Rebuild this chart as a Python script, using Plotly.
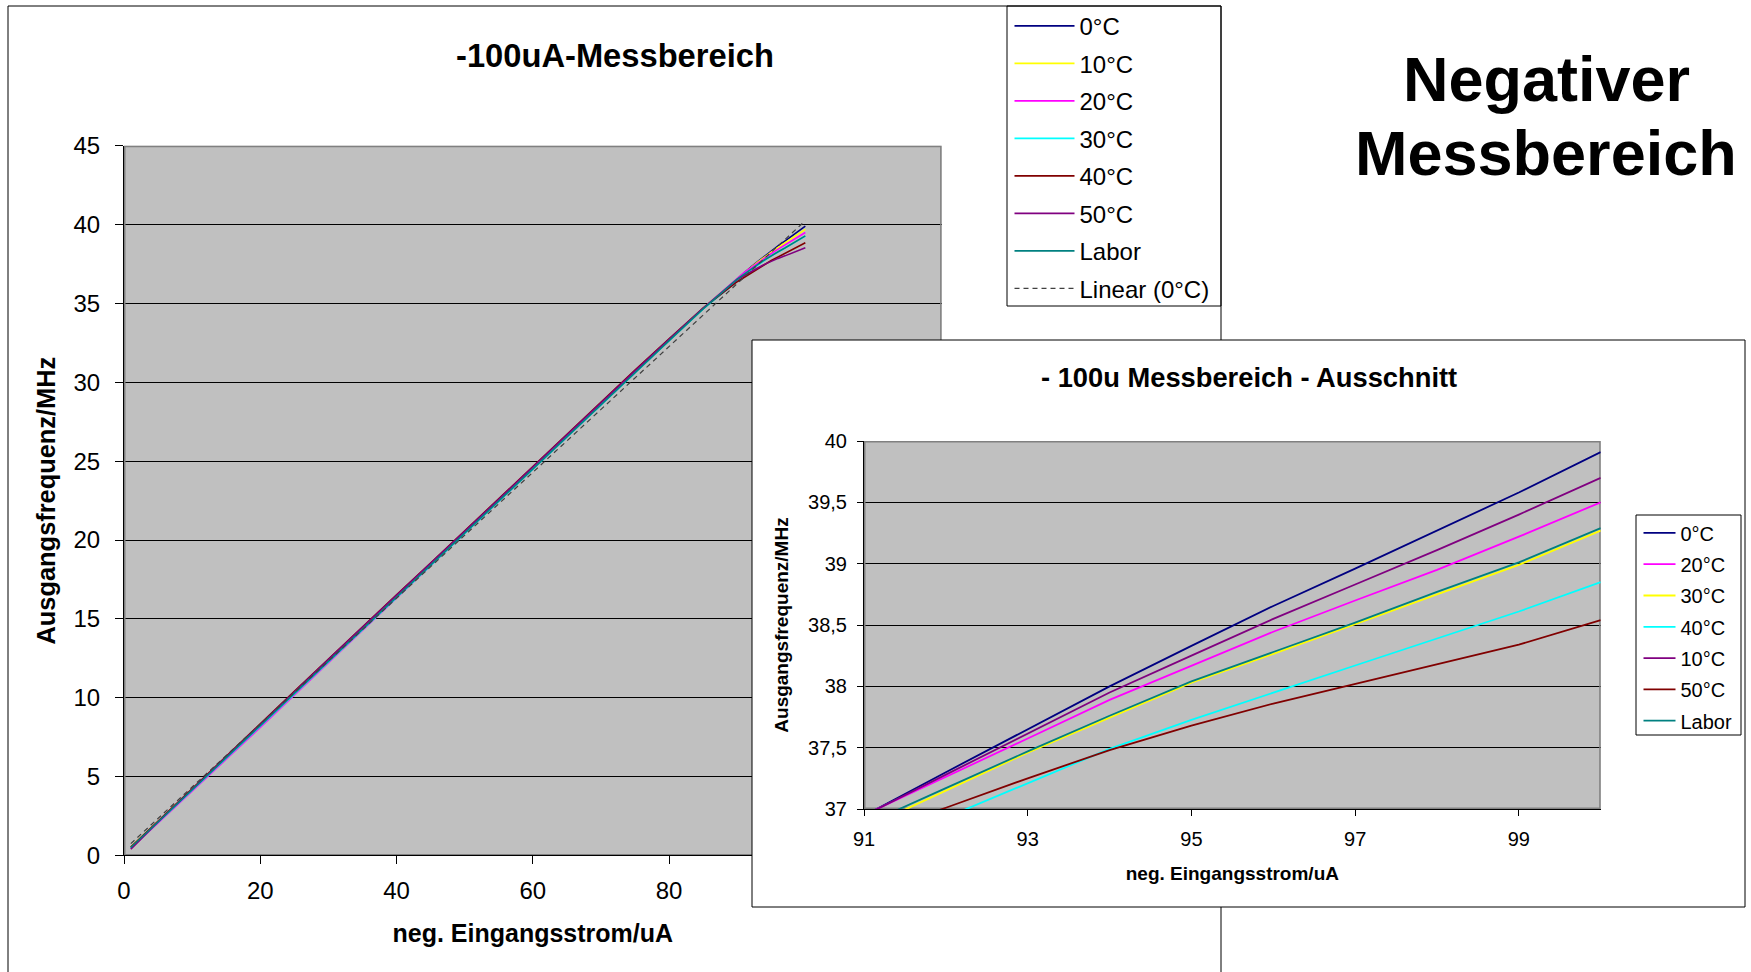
import plotly.graph_objects as go

W, H = 1751, 972

# ---------------- data ----------------
current_ua = [1, 5, 10, 15, 20, 25, 30, 35, 40, 45, 50, 55, 60, 65, 70, 75, 80, 85, 90,
              91, 92, 93, 94, 95, 96, 97, 98, 99, 100]

freq_0c = [0.50, 2.14, 4.17, 6.20, 8.23, 10.27, 12.31, 14.35, 16.39, 18.42, 20.46, 22.50, 24.54, 26.57, 28.60, 30.63, 32.66, 34.68, 36.58,
           36.945, 37.30, 37.65, 38.00, 38.33, 38.655, 38.96, 39.27, 39.58, 39.91]
freq_10c = [0.52, 2.16, 4.19, 6.22, 8.25, 10.29, 12.33, 14.37, 16.41, 18.44, 20.48, 22.52, 24.56, 26.59, 28.62, 30.65, 32.68, 34.70, 36.58,
            36.945, 37.28, 37.615, 37.95, 38.25, 38.55, 38.83, 39.11, 39.40, 39.70]
freq_20c = [0.45, 2.08, 4.08, 6.10, 8.12, 10.16, 12.22, 14.28, 16.34, 18.38, 20.43, 22.48, 24.52, 26.56, 28.59, 30.63, 32.67, 34.70, 36.62,
            36.95, 37.26, 37.575, 37.89, 38.17, 38.445, 38.70, 38.95, 39.22, 39.50]
freq_30c = [0.48, 2.12, 4.14, 6.17, 8.20, 10.24, 12.28, 14.32, 16.36, 18.40, 20.44, 22.48, 24.52, 26.55, 28.58, 30.61, 32.64, 34.66, 36.42,
            36.84, 37.15, 37.46, 37.745, 38.03, 38.265, 38.51, 38.75, 38.99, 39.27]
freq_40c = [0.52, 2.18, 4.22, 6.28, 8.34, 10.40, 12.46, 14.50, 16.52, 18.54, 20.58, 22.63, 24.68, 26.73, 28.76, 30.77, 32.76, 34.70, 36.38,
            36.66, 36.93, 37.21, 37.49, 37.726, 37.95, 38.17, 38.39, 38.61, 38.85]
freq_50c = [0.40, 2.12, 4.18, 6.25, 8.30, 10.36, 12.42, 14.46, 16.48, 18.50, 20.54, 22.58, 24.63, 26.68, 28.72, 30.73, 32.73, 34.70, 36.52,
            36.78, 37.01, 37.25, 37.48, 37.68, 37.86, 38.02, 38.18, 38.34, 38.54]
freq_labor = [0.50, 2.14, 4.17, 6.20, 8.23, 10.27, 12.31, 14.34, 16.37, 18.40, 20.44, 22.48, 24.52, 26.55, 28.58, 30.61, 32.64, 34.66, 36.55,
              36.87, 37.17, 37.47, 37.76, 38.04, 38.28, 38.52, 38.77, 39.01, 39.29]

series_names = ["0°C", "10°C", "20°C", "30°C", "40°C", "50°C", "Labor"]
series_values = [freq_0c, freq_10c, freq_20c, freq_30c, freq_40c, freq_50c, freq_labor]

# linear trendline of the 0°C series (Excel trendline)
trend_slope = 0.399
trend_intercept = 0.35
trend_name = "Linear (0°C)"

main_colors = ["#000080", "#FFFF00", "#FF00FF", "#00FFFF", "#800000", "#800080", "#008080"]
inset_order = ["0°C", "20°C", "30°C", "40°C", "10°C", "50°C", "Labor"]
inset_colors = ["#000080", "#FF00FF", "#FFFF00", "#00FFFF", "#800080", "#800000", "#008080"]

main_title = "-100uA-Messbereich"
inset_title = "- 100u Messbereich - Ausschnitt"
x_title = "neg. Eingangsstrom/uA"
y_title = "Ausgangsfrequenz/MHz"
side_title = ["Negativer", "Messbereich"]

FONT = "Liberation Sans, Arial, sans-serif"
PLOT_BG = "#C0C0C0"


def px(x):
    """pixel x -> paper fraction"""
    return x / W


def py(y):
    """pixel y (from top) -> paper fraction"""
    return 1 - y / H


def clamp(v):
    return min(1.0, max(0.0, v))


fig = go.Figure()

# main chart
for i, (name, vals) in enumerate(zip(series_names, series_values)):
    fig.add_trace(go.Scatter(
        x=current_ua, y=vals, mode="lines", name=name,
        line=dict(color=main_colors[i], width=1.6),
        xaxis="x", yaxis="y", legend="legend", legendgroup="m%d" % i,
    ))

trend_x = [current_ua[0], current_ua[-1]]
trend_y = [trend_intercept + trend_slope * v for v in trend_x]
fig.add_trace(go.Scatter(
    x=trend_x, y=trend_y, mode="lines", name=trend_name,
    line=dict(color="#404040", width=1.2, dash="5px,4px"),
    xaxis="x", yaxis="y", legend="legend", legendgroup="mtrend",
))

# inset chart
for j, name in enumerate(inset_order):
    vals = series_values[series_names.index(name)]
    fig.add_trace(go.Scatter(
        x=current_ua, y=vals, mode="lines", name=name,
        line=dict(color=inset_colors[j], width=1.8),
        xaxis="x3", yaxis="y3", legend="legend2", legendgroup="i%d" % j,
    ))

axis_common = dict(showline=True, linecolor="black", linewidth=1, ticks="outside",
                   tickcolor="black", zeroline=False, color="black", automargin=False)

fig.update_layout(
    width=W, height=H,
    margin=dict(l=0, r=0, t=0, b=0, pad=0, autoexpand=False),
    paper_bgcolor="white",
    plot_bgcolor=PLOT_BG,
    separators=",.",
    font=dict(family=FONT, color="black"),
    showlegend=True,
    xaxis=dict(domain=[px(124), px(941.6)], range=[0, 120], tick0=0, dtick=20,
               showgrid=False, anchor="y", ticklen=8, tickfont=dict(size=24),
               ticklabelstandoff=6,
               title=dict(text=x_title, font=dict(size=25, weight="bold"), standoff=21),
               **axis_common),
    yaxis=dict(domain=[py(855.4), py(145.8)], range=[0, 45], tick0=0, dtick=5,
               showgrid=True, gridcolor="black", gridwidth=1, anchor="x", ticklen=8,
               tickfont=dict(size=24), ticklabelstandoff=10,
               title=dict(text=y_title, font=dict(size=25.4, weight="bold"), standoff=10),
               **axis_common),
    xaxis2=dict(domain=[px(752), clamp(px(1745))], range=[0, 1], visible=False, anchor="y2"),
    yaxis2=dict(domain=[py(907), py(340)], range=[0, 1], visible=False, anchor="x2"),
    xaxis3=dict(domain=[px(864), px(1600.7)], range=[91, 100], tick0=91, dtick=2,
                showgrid=False, anchor="y3", ticklen=6, tickfont=dict(size=20),
                ticklabelstandoff=6,
                title=dict(text=x_title, font=dict(size=19, weight="bold"), standoff=17),
                **axis_common),
    yaxis3=dict(domain=[py(809), py(441)], range=[37, 40], tick0=37, dtick=0.5,
                showgrid=True, gridcolor="black", gridwidth=1, anchor="x3", ticklen=6,
                tickfont=dict(size=20), ticklabelstandoff=6,
                title=dict(text=y_title, font=dict(size=19, weight="bold"), standoff=14),
                **axis_common),
    legend=dict(x=px(1009.5), y=py(3.8), xanchor="left", yanchor="top",
                bgcolor="rgba(0,0,0,0)", borderwidth=0, font=dict(size=24),
                itemwidth=60, tracegroupgap=3.3, traceorder="grouped"),
    legend2=dict(x=px(1638.5), y=py(513.4), xanchor="left", yanchor="top",
                 bgcolor="rgba(0,0,0,0)", borderwidth=0, font=dict(size=20),
                 itemwidth=32, tracegroupgap=2.3, traceorder="grouped"),
)

shapes = [
    # main chart frame
    dict(type="rect", xref="paper", yref="paper", x0=px(8), x1=px(1221), y0=-0.05, y1=py(6),
         line=dict(color="black", width=1), fillcolor="rgba(0,0,0,0)", layer="below"),
    # main plot-area border (gray)
    dict(type="rect", xref="x", yref="y", x0=0, x1=120, y0=0, y1=45,
         line=dict(color="#808080", width=3), fillcolor="rgba(0,0,0,0)", layer="between"),
    # inset frame white fill
    dict(type="rect", xref="x2", yref="y2", x0=0, x1=1, y0=0, y1=1,
         line=dict(width=0), fillcolor="white", layer="below"),
    # inset frame border
    dict(type="rect", xref="paper", yref="paper", x0=px(752), x1=px(1745), y0=py(907), y1=py(340),
         line=dict(color="black", width=1), fillcolor="rgba(0,0,0,0)", layer="above"),
    # inset plot-area border (gray)
    dict(type="rect", xref="x3", yref="y3", x0=91, x1=100, y0=37, y1=40,
         line=dict(color="#808080", width=3), fillcolor="rgba(0,0,0,0)", layer="between"),
    # legend boxes
    dict(type="rect", xref="paper", yref="paper", x0=px(1007), x1=px(1221), y0=py(306), y1=py(6),
         line=dict(color="black", width=1), fillcolor="rgba(0,0,0,0)", layer="above"),
    dict(type="rect", xref="paper", yref="paper", x0=px(1636), x1=px(1741), y0=py(735), y1=py(515),
         line=dict(color="black", width=1), fillcolor="rgba(0,0,0,0)", layer="above"),
]
fig.update_layout(shapes=shapes)

annotations = [
    dict(text=main_title, x=px(614.5), y=py(55.8), xref="paper", yref="paper",
         xanchor="center", yanchor="middle", showarrow=False,
         font=dict(size=32.7, weight="bold")),
    dict(text=inset_title, x=px(1249), y=py(377.2), xref="paper", yref="paper",
         xanchor="center", yanchor="middle", showarrow=False,
         font=dict(size=27.3, weight="bold")),
    dict(text=side_title[0], x=px(1546), y=py(79.2), xref="paper", yref="paper",
         xanchor="center", yanchor="middle", showarrow=False,
         font=dict(size=63, weight="bold")),
    dict(text=side_title[1], x=px(1546), y=py(153.5), xref="paper", yref="paper",
         xanchor="center", yanchor="middle", showarrow=False,
         font=dict(size=63, weight="bold")),
]
fig.update_layout(annotations=annotations)

fig.write_html("out.html", config={"displayModeBar": False},
               post_script="document.body.style.margin='0';document.body.style.overflow='hidden';")
